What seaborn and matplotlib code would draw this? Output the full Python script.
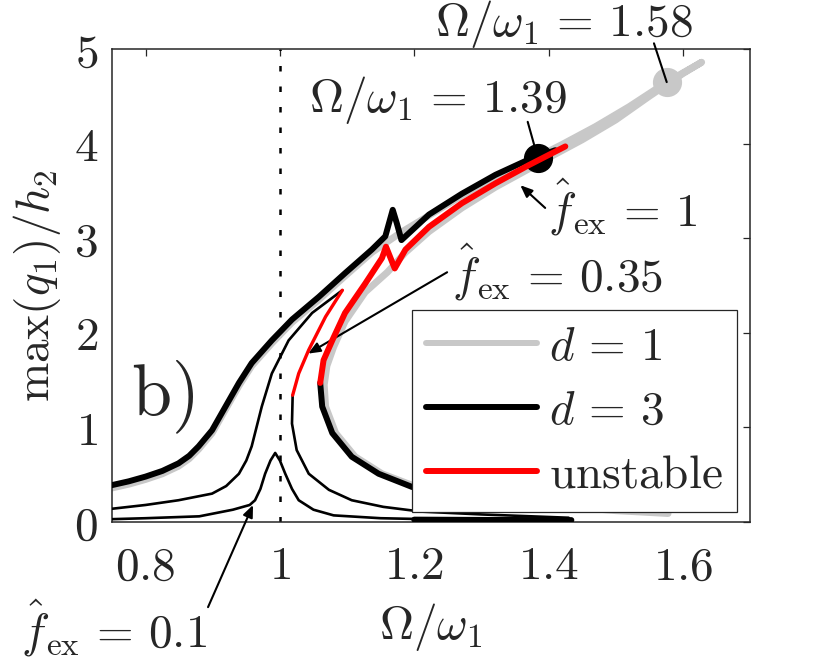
import matplotlib
matplotlib.use("Agg")
import matplotlib.pyplot as plt
from matplotlib.lines import Line2D
import seaborn as sns

# ---- data ----
# d = 1, f_ex = 1 (grey): upper branch, unstable branch and lower branch as one path
d1_x = [0.75, 0.775, 0.80, 0.825, 0.849, 0.865, 0.879, 0.899, 0.919, 0.939, 0.958, 0.988,
        1.018, 1.058, 1.097, 1.137, 1.18, 1.222, 1.271, 1.321, 1.37, 1.42, 1.47, 1.52,
        1.576, 1.628,
        1.6, 1.55, 1.5, 1.45, 1.4, 1.37, 1.321, 1.271, 1.222, 1.187, 1.16, 1.127,
        1.097, 1.08, 1.07, 1.066, 1.068,
        1.083, 1.112, 1.152, 1.2, 1.3, 1.4, 1.5, 1.578]
d1_y = [0.36, 0.40, 0.45, 0.51, 0.59, 0.67, 0.77, 0.94, 1.19, 1.44, 1.65, 1.89,
        2.11, 2.35, 2.6, 2.85, 3.06, 3.24, 3.45, 3.65, 3.81, 3.99, 4.18, 4.39,
        4.65, 4.86,
        4.74, 4.5, 4.25, 4.04, 3.85, 3.73, 3.54, 3.32, 3.07, 2.85, 2.64, 2.43,
        2.12, 1.85, 1.65, 1.45, 1.22,
        0.94, 0.69, 0.51, 0.38, 0.26, 0.18, 0.12, 0.09]

# d = 3, f_ex = 1 (thick black, red where unstable)
d3_up_x = [0.75, 0.775, 0.80, 0.825, 0.849, 0.865, 0.879, 0.899, 0.919, 0.939, 0.958,
           0.988, 1.018, 1.058, 1.097, 1.137, 1.157, 1.168, 1.174, 1.181, 1.222, 1.271,
           1.321, 1.37, 1.39, 1.41]
d3_up_y = [0.39, 0.43, 0.48, 0.54, 0.62, 0.70, 0.80, 0.97, 1.22, 1.47, 1.68,
           1.92, 2.14, 2.38, 2.63, 2.88, 3.02, 3.30, 3.16, 2.98, 3.25, 3.47,
           3.67, 3.83, 3.88, 3.93]
d3_uns_x = [1.425, 1.37, 1.321, 1.271, 1.222, 1.187, 1.171, 1.158, 1.152, 1.127, 1.097,
            1.078, 1.065, 1.06]
d3_uns_y = [3.97, 3.77, 3.58, 3.37, 3.12, 2.88, 2.68, 2.91, 2.79, 2.52, 2.21,
            1.92, 1.71, 1.47]
d3_low_x = [1.06, 1.063, 1.078, 1.107, 1.147, 1.197, 1.25, 1.3]
d3_low_y = [1.47, 1.22, 0.94, 0.69, 0.51, 0.37, 0.3, 0.26]
d3_tail_x = [1.2, 1.3, 1.434]
d3_tail_y = [0.025, 0.022, 0.02]

# f_ex = 0.35 (thin black, red where unstable)
f035_up_x = [0.75, 0.8, 0.849, 0.899, 0.92, 0.939, 0.95, 0.958, 0.973, 0.988, 1.013,
             1.048, 1.093]
f035_up_y = [0.14, 0.18, 0.23, 0.30, 0.38, 0.51, 0.65, 0.80, 1.22, 1.57, 1.92,
             2.21, 2.45]
f035_uns_x = [1.093, 1.068, 1.043, 1.028, 1.019]
f035_uns_y = [2.45, 2.17, 1.82, 1.57, 1.34]
f035_low_x = [1.019, 1.018, 1.025, 1.043, 1.073, 1.107, 1.154, 1.21, 1.3, 1.43]
f035_low_y = [1.34, 1.04, 0.76, 0.51, 0.34, 0.23, 0.16, 0.11, 0.08, 0.045]

# f_ex = 0.1 (thin black)
f01_x = [0.75, 0.8, 0.88, 0.93, 0.955, 0.963, 0.971, 0.978, 0.986, 0.993, 1.0, 1.008,
         1.018, 1.028, 1.05, 1.08, 1.15, 1.25, 1.35, 1.434]
f01_y = [0.03, 0.04, 0.06, 0.13, 0.18, 0.23, 0.35, 0.51, 0.65, 0.73, 0.65, 0.51,
         0.35, 0.23, 0.13, 0.07, 0.04, 0.025, 0.02, 0.02]

# marked frequencies
dot_gray = (1.576, 4.65)
dot_black = (1.384, 3.85)

xticks = [0.8, 1.0, 1.2, 1.4, 1.6]
xtick_labels = ["0.8", "1", "1.2", "1.4", "1.6"]
yticks = [0, 1, 2, 3, 4, 5]
legend_labels = [r"$d\,=\,1$", r"$d\,=\,3$", r"$\mathrm{unstable}$"]

GRAY = "#c8c8c8"
RED = "#ff0000"
FS = 34

sns.set_theme(style="white")
plt.rcParams["mathtext.fontset"] = "cm"
plt.rcParams["font.family"] = ["DejaVu Serif"]

fig = plt.figure(figsize=(8.3, 6.65), dpi=100)
ax = fig.add_axes([112 / 830, 143 / 665, 638 / 830, 473 / 665])


def line(x, y, color, lw, z):
    sns.lineplot(x=x, y=y, sort=False, estimator=None, color=color, lw=lw,
                 ax=ax, zorder=z, legend=False)


# vertical reference at Omega/omega_1 = 1
ax.axvline(1.0, color="black", lw=1.8, ls=(0, (2.2, 6)), zorder=1)

line(d1_x, d1_y, GRAY, 5.0, 2)
ax.plot(*dot_gray, "o", color=GRAY, ms=20, zorder=2)

line(f01_x, f01_y, "black", 1.9, 3)
line(f035_up_x, f035_up_y, "black", 1.9, 3)
line(f035_low_x, f035_low_y, "black", 1.9, 3)
line(f035_uns_x, f035_uns_y, RED, 2.4, 4)

line(d3_up_x, d3_up_y, "black", 4.3, 5)
line(d3_low_x, d3_low_y, "black", 4.3, 5)
line(d3_tail_x, d3_tail_y, "black", 4.3, 5)
ax.plot(*dot_black, "o", color="black", ms=20, zorder=6)
line(d3_uns_x, d3_uns_y, RED, 4.3, 7)

ax.set_xlim(0.75, 1.7)
ax.set_ylim(0, 5)
ax.set_xticks(xticks, labels=["$" + s + "$" for s in xtick_labels])
ax.set_yticks(yticks, labels=["$%d$" % v for v in yticks])
ax.tick_params(axis="both", which="both", direction="in", length=5, width=0.9,
               color="#262626", labelsize=FS, top=True, right=True)
ax.tick_params(axis="x", pad=16)
ax.tick_params(axis="y", pad=10)
for s in ax.spines.values():
    s.set_color("#262626")
    s.set_linewidth(1.1)
    s.set_visible(True)

ax.set_xlabel(r"$\Omega/\omega_1$", fontsize=FS, labelpad=8)
ax.set_ylabel(r"$\max(q_1)/h_2$", fontsize=FS, labelpad=8)

# text annotations
ax.text(0.826, 1.32, r"$\mathrm{b)}$", fontsize=52, ha="center", va="center")

ax.text(1.235, 4.46, r"$\Omega/\omega_1\,=\,1.39$", fontsize=FS, ha="center", va="center")
ax.plot([1.369, dot_black[0]], [4.23, dot_black[1]], color="black", lw=1.5, zorder=6)

ax.text(1.423, 5.26, r"$\Omega/\omega_1\,=\,1.58$", fontsize=FS, ha="center", va="center",
        clip_on=False)
ax.plot([1.557, dot_gray[0]], [5.06, dot_gray[1]], color="black", lw=1.5, zorder=6,
        clip_on=False)

arrow = dict(arrowstyle="-|>,head_length=0.6,head_width=0.25", color="black", lw=1.5,
             shrinkA=0, shrinkB=0)
ax.text(1.51, 3.33, r"$\hat{f}_{\mathrm{ex}}\,=\,1$", fontsize=FS, ha="center", va="center")
ax.annotate("", xy=(1.358, 3.56), xytext=(1.395, 3.32), arrowprops=arrow)

ax.text(1.413, 2.64, r"$\hat{f}_{\mathrm{ex}}\,=\,0.35$", fontsize=FS, ha="center",
        va="center")
ax.annotate("", xy=(1.042, 1.78), xytext=(1.249, 2.64), arrowprops=arrow)

ax.text(0.753, -1.12, r"$\hat{f}_{\mathrm{ex}}\,=\,0.1$", fontsize=FS, ha="center",
        va="center", clip_on=False)
ax.annotate("", xy=(0.96, 0.18), xytext=(0.893, -0.9), arrowprops=arrow,
            annotation_clip=False)

# legend
handles = [Line2D([], [], color=GRAY, lw=4.3),
           Line2D([], [], color="black", lw=4.3),
           Line2D([], [], color=RED, lw=4.3)]
leg = ax.legend(handles, legend_labels,
                loc="lower right", bbox_to_anchor=(0.98, 0.021), borderaxespad=0,
                fontsize=FS, handlelength=2.35, handletextpad=0.25, labelspacing=0.4,
                borderpad=0.3, frameon=True, fancybox=False, framealpha=1,
                edgecolor="#262626")
leg.get_frame().set_linewidth(0.9)
leg.set_zorder(10)

fig.savefig("out.png", dpi=100)
